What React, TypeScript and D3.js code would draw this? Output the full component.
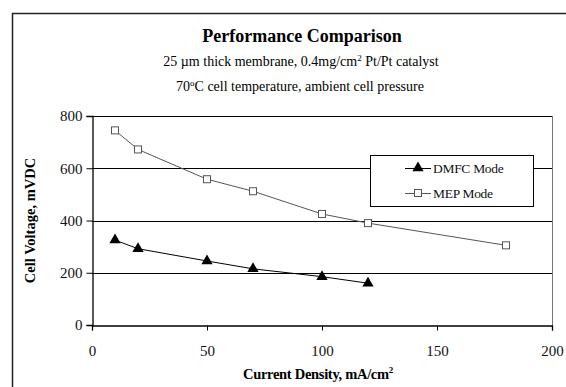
import { useEffect, useRef } from 'react';
import * as d3 from 'd3';

// Current density (mA/cm2) and cell voltage (mVDC)
const dmfcDensity = [10, 20, 50, 70, 100, 120];
const dmfcVoltage = [325, 292, 245, 215, 185, 160];
const mepDensity = [10, 20, 50, 70, 100, 120, 180];
const mepVoltage = [745, 672, 558, 512, 425, 390, 305];
const xTicks = [0, 50, 100, 150, 200];
const yTicks = [0, 200, 400, 600, 800];
const seriesNames = ['DMFC Mode', 'MEP Mode'];

const FONT = '"Liberation Serif", "Times New Roman", serif';

export default function App() {
  const svgRef = useRef<SVGSVGElement>(null);

  useEffect(() => {
    if (!svgRef.current) return;
    const svg = d3.select(svgRef.current);
    svg.selectAll('*').remove();

    const plot = { left: 92, right: 552, top: 116, bottom: 325 };

    const x = d3.scaleLinear().domain([0, 200]).range([plot.left, plot.right]);
    const y = d3.scaleLinear().domain([0, 800]).range([plot.bottom, plot.top]);

    // Outer frame (runs off the right and bottom edges)
    svg.append('rect')
      .attr('x', 12.5).attr('y', 13.5)
      .attr('width', 600).attr('height', 400)
      .attr('fill', 'white')
      .attr('stroke', '#222')
      .attr('stroke-width', 1.5);

    // Titles
    const title = svg.append('g').attr('font-family', FONT).attr('text-anchor', 'middle');
    title.append('text')
      .attr('x', 302).attr('y', 42)
      .attr('font-size', 18).attr('font-weight', 'bold')
      .text('Performance Comparison');

    const sub1 = title.append('text').attr('x', 301).attr('y', 66).attr('font-size', 14);
    sub1.append('tspan').text('25 \u00b5m thick membrane, 0.4mg/cm');
    sub1.append('tspan').attr('dy', -5).attr('font-size', 9).text('2');
    sub1.append('tspan').attr('dy', 5).text(' Pt/Pt catalyst');

    const sub2 = title.append('text').attr('x', 300).attr('y', 91).attr('font-size', 14);
    sub2.append('tspan').text('70');
    sub2.append('tspan').attr('dy', -5).attr('font-size', 9).text('o');
    sub2.append('tspan').attr('dy', 5).text('C cell temperature, ambient cell pressure');

    // Plot right edge
    svg.append('line')
      .attr('x1', plot.right + 0.5).attr('x2', plot.right + 0.5)
      .attr('y1', plot.top).attr('y2', plot.bottom)
      .attr('stroke', '#777').attr('stroke-width', 1);

    // Horizontal gridlines
    svg.append('g')
      .selectAll('line')
      .data(yTicks.filter(t => t > 0))
      .enter()
      .append('line')
      .attr('x1', plot.left).attr('x2', plot.right)
      .attr('y1', d => Math.round(y(d)) + 0.5)
      .attr('y2', d => Math.round(y(d)) + 0.5)
      .attr('stroke', '#000').attr('stroke-width', 1);

    // Axes
    const xAxis = svg.append('g')
      .attr('transform', `translate(0,${plot.bottom + 0.5})`)
      .call(d3.axisBottom(x).tickValues(xTicks).tickSize(5).tickPadding(15));
    const yAxis = svg.append('g')
      .attr('transform', `translate(${plot.left + 0.5},0)`)
      .call(d3.axisLeft(y).tickValues(yTicks).tickSize(6).tickPadding(4));
    [xAxis, yAxis].forEach(a => {
      a.select('.domain').attr('stroke', '#000').attr('stroke-width', 1.3);
      a.selectAll('.tick line').attr('stroke', '#000');
      a.selectAll('.tick text')
        .attr('font-family', FONT)
        .attr('font-size', 15)
        .attr('fill', '#111');
    });

    // Series lines
    const lineGen = d3.line<[number, number]>()
      .x(d => x(d[0]))
      .y(d => y(d[1]));

    const mepPts = mepDensity.map((d, i) => [d, mepVoltage[i]] as [number, number]);
    const dmfcPts = dmfcDensity.map((d, i) => [d, dmfcVoltage[i]] as [number, number]);

    svg.append('path')
      .attr('d', lineGen(mepPts))
      .attr('fill', 'none')
      .attr('stroke', '#555')
      .attr('stroke-width', 1);

    svg.append('path')
      .attr('d', lineGen(dmfcPts))
      .attr('fill', 'none')
      .attr('stroke', '#000')
      .attr('stroke-width', 1);

    const triangle = d3.symbol().type(d3.symbolTriangle).size(55);

    // Markers
    svg.append('g')
      .selectAll('rect')
      .data(mepPts)
      .enter()
      .append('rect')
      .attr('x', d => x(d[0]) - 3.5)
      .attr('y', d => y(d[1]) - 3.5)
      .attr('width', 7).attr('height', 7)
      .attr('fill', 'white')
      .attr('stroke', '#555')
      .attr('stroke-width', 1);

    svg.append('g')
      .selectAll('path')
      .data(dmfcPts)
      .enter()
      .append('path')
      .attr('d', triangle)
      .attr('transform', d => `translate(${x(d[0])},${y(d[1])})`)
      .attr('fill', '#000');

    // Legend
    const legend = svg.append('g');
    legend.append('rect')
      .attr('x', 370.5).attr('y', 155.5)
      .attr('width', 163).attr('height', 51)
      .attr('fill', 'white')
      .attr('stroke', '#000')
      .attr('stroke-width', 1);

    seriesNames.forEach((name, i) => {
      const ly = 168 + i * 25;
      const isDmfc = i === 0;
      legend.append('line')
        .attr('x1', 405).attr('x2', 431)
        .attr('y1', ly + 0.5).attr('y2', ly + 0.5)
        .attr('stroke', isDmfc ? '#000' : '#555');
      if (isDmfc) {
        legend.append('path')
          .attr('d', triangle)
          .attr('transform', `translate(418,${ly})`)
          .attr('fill', '#000');
      } else {
        legend.append('rect')
          .attr('x', 414.5).attr('y', ly - 3.5)
          .attr('width', 7).attr('height', 7)
          .attr('fill', 'white')
          .attr('stroke', '#555');
      }
      legend.append('text')
        .attr('x', 433).attr('y', ly + 4.5)
        .attr('font-family', FONT)
        .attr('font-size', 13.5)
        .attr('fill', '#111')
        .attr('letter-spacing', -0.3)
        .text(name);
    });

    // Axis titles
    const xLabel = svg.append('text')
      .attr('x', 318).attr('y', 379)
      .attr('text-anchor', 'middle')
      .attr('font-family', FONT)
      .attr('font-size', 14.5)
      .attr('font-weight', 'bold')
      .attr('letter-spacing', -0.3);
    xLabel.append('tspan').text('Current Density, mA/cm');
    xLabel.append('tspan').attr('dy', -6).attr('font-size', 9).text('2');

    svg.append('text')
      .attr('transform', `translate(35,${(plot.top + plot.bottom) / 2}) rotate(-90)`)
      .attr('text-anchor', 'middle')
      .attr('font-family', FONT)
      .attr('font-size', 14.5)
      .attr('font-weight', 'bold')
      .text('Cell Voltage, mVDC');
  }, []);

  return (
    <svg
      ref={svgRef}
      width={566}
      height={387}
      style={{ position: 'absolute', left: 0, top: 0, background: 'white' }}
    />
  );
}
